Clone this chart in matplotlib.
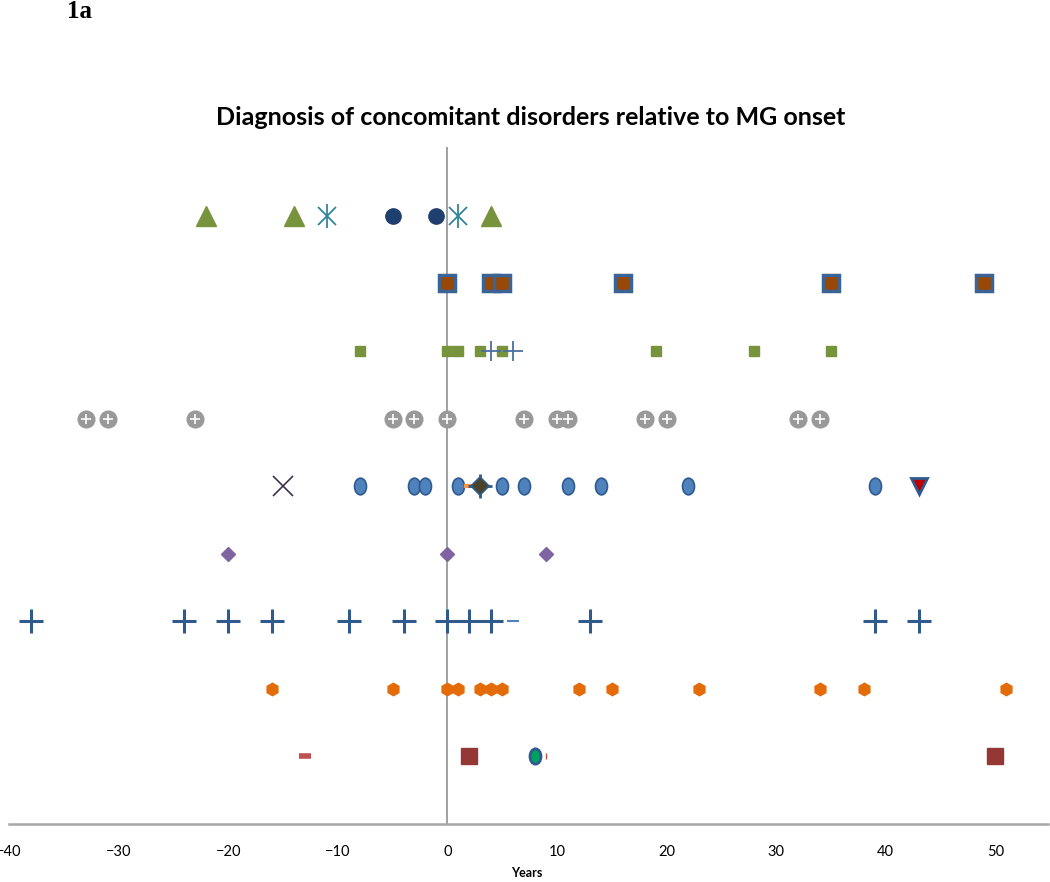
import matplotlib
matplotlib.use("Agg")
import matplotlib.pyplot as plt
from matplotlib.path import Path
import numpy as np

# years relative to MG onset, one list per marker series
row9_triangle = [-22, -14, 4]
row9_asterisk = [-11, 1]
row9_blob = [-5, -1]
row8_square = [0, 4, 5, 16, 35, 49]
row7_square = [-8, 0, 1, 3, 5, 19, 28, 35]
row7_plus = [4, 6]
row6_gray = [-33, -31, -23, -5, -3, 0, 7, 10, 11, 18, 20, 32, 34]
row5_x = [-15]
row5_oval = [-8, -3, -2, 1, 5, 7, 11, 14, 22, 39]
row5_dash = [2]
row5_star = [3]
row5_tri = [43]
row4_diamond = [-20, 0, 9]
row3_cross = [-38, -24, -20, -16, -9, -4, 0, 2, 4, 13, 39, 43]
row3_dash = [6]
row2_orange = [-16, -5, 0, 1, 3, 4, 5, 12, 15, 23, 34, 38, 51]
row1_dash = [-13]
row1_square = [2, 50]
row1_blob = [8]
row1_tick = [9]

xticks = [-40, -30, -20, -10, 0, 10, 20, 30, 40, 50]

plt.rcParams['font.family'] = ['Lato', 'DejaVu Sans']

fig = plt.figure(figsize=(10.5, 8.82), dpi=100)
ax = fig.add_axes([0.0086, 0.0658, 0.9894, 0.766])


def row(vals, y, **kw):
    ax.plot(vals, [y] * len(vals), linestyle='none', **kw)


oval = Path.unit_circle().transformed(matplotlib.transforms.Affine2D().scale(0.72, 1.0))

# row 9
row(row9_triangle, 9, marker='^', ms=14, color='#77933C', mec='#77933C')
row(row9_asterisk, 9, marker='x', ms=13, mew=1.3, color='#31859C')
row(row9_asterisk, 9, marker='|', ms=17, mew=1.3, color='#31859C')
row(row9_blob, 9, marker='o', ms=11, color='#1F3F6E', mec='#1F3F6E')
# row 8
row(row8_square, 8, marker='s', ms=11, mfc='#984807', mec='#3A6496', mew=2.5)
# row 7
row(row7_square, 7, marker='s', ms=7, color='#77933C', mec='#77933C')
row(row7_plus, 7, marker='+', ms=15, mew=1.3, color='#4A6FA0')
# row 6
row(row6_gray, 6, marker='o', ms=12, color='#999999', mec='#999999')
row(row6_gray, 6, marker='+', ms=7, mew=1.2, color='white')
# row 5
row(row5_x, 5, marker='x', ms=14, mew=1.2, color='#403152')
row(row5_oval, 5, marker=oval, ms=12, mfc='#4F81BD', mec='#2F5A8E', mew=1.2)
row(row5_dash, 5, marker='_', ms=7, mew=3, color='#F79646')
row(row5_star, 5, marker='+', ms=17, mew=2, color='#2F5A8E')
row(row5_star, 5, marker='D', ms=9, mfc='#4A442A', mec='#2F5A8E', mew=1.2)
row(row5_tri, 5, marker='v', ms=11, mfc='#C00000', mec='#2F5A8E', mew=2)
# row 4
row(row4_diamond, 4, marker='D', ms=7, color='#8064A2', mec='#8064A2')
# row 3
row(row3_cross, 3, marker='+', ms=17, mew=2.2, color='#2F5A8E')
row(row3_dash, 3, marker='_', ms=8, mew=1.5, color='#4F81BD')
# row 2
row(row2_orange, 2, marker='h', ms=9, color='#E36C09', mec='#E36C09')
# row 1
row(row1_dash, 1, marker='_', ms=8, mew=4, color='#C0504D')
row(row1_square, 1, marker='s', ms=11, color='#953735', mec='#953735')
row(row1_blob, 1, marker=oval, ms=11, mfc='#00A060', mec='#2F5A8E', mew=2)
row(row1_tick, 1, marker='|', ms=5, mew=1, color='#C0504D')

ax.set_xlim(-40, 54.8)
ax.set_ylim(0, 10)
ax.set_xticks(xticks)
ax.set_yticks([])
ax.tick_params(axis='x', length=0, pad=15, labelsize=10.5)
for s in ['top', 'right']:
    ax.spines[s].set_visible(False)
ax.spines['left'].set_position(('data', 0))
ax.spines['left'].set_color('#A0A0A0')
ax.spines['left'].set_linewidth(1.4)
ax.spines['left'].set_zorder(0)
ax.spines['bottom'].set_color('#A6A6A6')
ax.spines['bottom'].set_linewidth(1.8)
ax.patch.set_visible(False)

fig.text(0.505, 0.867, 'Diagnosis of concomitant disorders relative to MG onset',
         ha='center', va='center', fontsize=18, fontweight='bold')
fig.text(0.064, 0.987, '1a', ha='left', va='center', fontsize=18,
         fontweight='bold', family='Liberation Serif')
fig.text(0.502, 0.01, 'Years', ha='center', va='center', fontsize=9, fontweight='bold')

fig.savefig('out.png', dpi=100)
